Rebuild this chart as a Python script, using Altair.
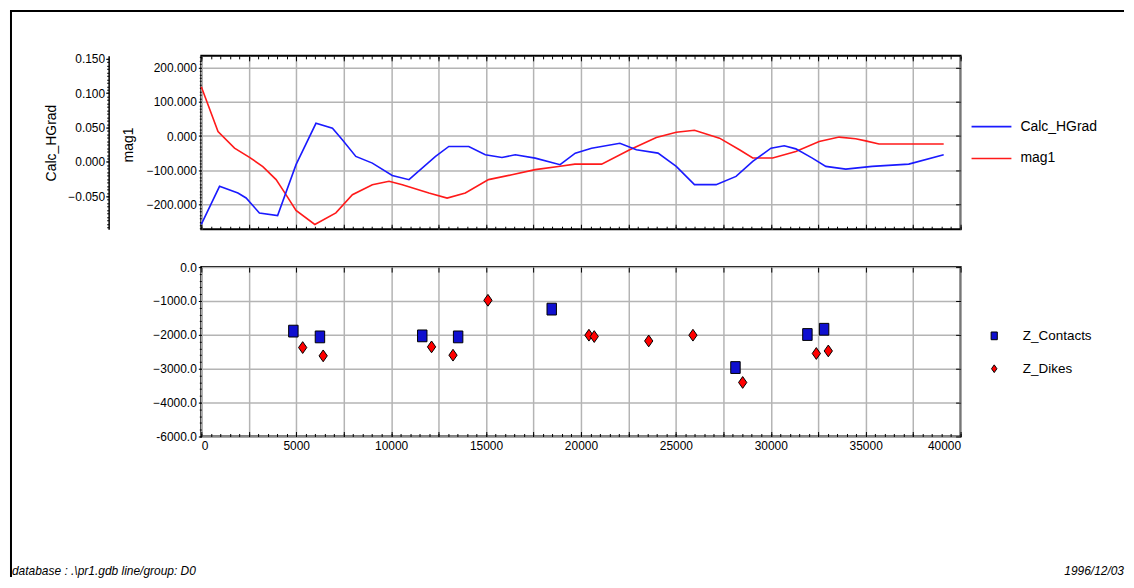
import altair as alt
import pandas as pd

# ---------------- data ----------------
dist_calc = [0, 960, 1930, 2360, 3060, 4020, 4990, 6040, 6910, 7440, 8140, 9010,
             10060, 10940, 12340, 13040, 14090, 14960, 15840, 16540, 17590, 18900,
             19700, 20560, 22050, 22920, 24060, 25020, 25980, 27120, 28170, 29050,
             30010, 30710, 31320, 32190, 32900, 33950, 35340, 37270, 39110]
calc_hgrad = [-0.0908, -0.0355, -0.0452, -0.0524, -0.0742, -0.078, -0.004, 0.0562,
              0.049, 0.032, 0.008, -0.0017, -0.0196, -0.0258, 0.008, 0.0225, 0.0225,
              0.0104, 0.0065, 0.0104, 0.0055, -0.004, 0.0128, 0.02, 0.0272, 0.0177,
              0.0128, -0.0065, -0.033, -0.033, -0.021, 0.0007, 0.02, 0.0235, 0.019,
              0.0055, -0.0065, -0.0104, -0.0065, -0.0032, 0.0104]

dist_mag = [0, 880, 1750, 2540, 3240, 3940, 4460, 4990, 5980, 7090, 7960, 9010,
            9890, 10590, 11990, 12950, 13910, 15130, 16360, 17590, 18810, 19680,
            21090, 22570, 23970, 25020, 25980, 27300, 28350, 29050, 30100, 31320,
            32550, 33600, 34470, 35000, 35700, 39110]
mag1 = [144, 13, -35, -62, -89, -127, -171, -217, -258, -224, -171, -142, -132,
        -142, -166, -181, -166, -127, -113, -98, -89, -82, -82, -40, -4, 11, 17,
        -6, -40, -64, -64, -45, -16, -3, -8, -14, -23, -23]

contacts_dist = [4850, 6250, 11640, 13530, 18460, 28140, 31930, 32810]
contacts_z = [-1890, -2060, -2030, -2060, -1240, -2965, -1990, -1835]
dikes_dist = [5340, 6420, 12130, 13260, 15100, 20420, 20700, 23570, 25900, 28520, 32400, 33030]
dikes_z = [-2375, -2620, -2355, -2600, -980, -2010, -2050, -2180, -2010, -3405, -2550, -2475]

line_series = ["Calc_HGrad", "mag1"]
point_series = ["Z_Contacts", "Z_Dikes"]
footer_left = "database : .\\pr1.gdb  line/group: D0"
footer_right = "1996/12/03"

# ---------------- styling ----------------
FONT = "Liberation Sans"
W, H1, H2, GAP = 762, 174, 170, 38
X_DOM = [0, 40000]
MAG_DOM = [-271.8, 234]
CALC_DOM = [-0.0979, 0.1543]
Z_DOM = [-5000, 0]

x_major = list(range(0, 40001, 2500))
x_minor = list(range(0, 40001, 500))
mag_major = [-200, -100, 0, 100, 200]
mag_minor = list(range(-270, 231, 10))
calc_major = [-0.05, 0.0, 0.05, 0.1, 0.15]
calc_minor = [round(-0.095 + 0.005 * i, 3) for i in range(50)]
z_major = [0, -1000, -2000, -3000, -4000, -5000]
z_minor = list(range(-5000, 1, 200))

red_df = pd.DataFrame({"dist": dist_mag, "value": mag1, "series": "mag1"})
blue_df = pd.DataFrame({"dist": dist_calc, "value": calc_hgrad, "series": "Calc_HGrad"})
pts_df = pd.DataFrame({
    "dist": contacts_dist + dikes_dist,
    "z": contacts_z + dikes_z,
    "series": [point_series[0]] * len(contacts_dist) + [point_series[1]] * len(dikes_dist),
})
one = pd.DataFrame({"k": [0]})


def xq(axis):
    return alt.X("dist:Q", scale=alt.Scale(domain=X_DOM, nice=False, zero=False),
                 axis=axis, title=None)


def yq(field, dom, axis):
    return alt.Y(f"{field}:Q", scale=alt.Scale(domain=dom, nice=False, zero=False),
                 axis=axis, title=None)


def tick_axis(orient, values, size, inward=True, offset=None):
    kw = dict(orient=orient, values=values, grid=False, labels=False, domain=False,
              ticks=True, tickSize=size, tickColor="black", tickWidth=1, title=None)
    if inward:
        kw["offset"] = -size
    elif offset is not None:
        kw["offset"] = offset
    return alt.Axis(**kw)


line_legend = alt.Legend(orient="none", legendX=772, legendY=63, title=None,
                         symbolType="stroke", symbolSize=1600, symbolStrokeWidth=1.6,
                         labelFont=FONT, labelFontSize=14, labelColor="black",
                         labelOffset=8, clipHeight=16, rowPadding=16, padding=0)
line_color = alt.Color("series:N",
                       scale=alt.Scale(domain=line_series, range=["#1a1aff", "#ff1a1a"]),
                       legend=line_legend)

# ---------------- top panel ----------------
red = alt.Chart(red_df).mark_line(strokeWidth=1.6).encode(
    x=xq(alt.Axis(values=x_major, grid=True, labels=False, ticks=False, domain=False, title=None)),
    y=alt.Y("value:Q", scale=alt.Scale(domain=MAG_DOM, nice=False, zero=False),
            title="mag1",
            axis=alt.Axis(orient="left", values=mag_major, format=".3f", grid=True,
                          tickSize=3, labelPadding=2, domain=False,
                          titleX=-73, titleY=89, titleAngle=-90, titleAlign="center",
                          titleBaseline="middle")),
    color=line_color,
)
blue = alt.Chart(blue_df).mark_line(strokeWidth=1.6).encode(
    x=xq(tick_axis("bottom", x_major, 5)),
    y=alt.Y("value:Q", scale=alt.Scale(domain=CALC_DOM, nice=False, zero=False),
            title="Calc_HGrad",
            axis=alt.Axis(orient="left", offset=93, values=calc_major, format=".3f",
                          grid=False, tickSize=3, labelPadding=1, domain=True,
                          domainWidth=1.5, domainColor="black",
                          titleX=-57, titleY=87, titleAngle=-90, titleAlign="center",
                          titleBaseline="middle")),
    color=line_color,
)
inv_a = alt.Chart(red_df).mark_line(opacity=0).encode(
    x=xq(tick_axis("top", x_major, 5)),
    y=yq("value", MAG_DOM, tick_axis("left", mag_minor, 2, inward=False)),
)
inv_b = alt.Chart(blue_df).mark_line(opacity=0).encode(
    x=xq(tick_axis("bottom", x_minor, 3)),
    y=yq("value", CALC_DOM, tick_axis("left", calc_minor, 2, inward=False, offset=93)),
)
inv_c = alt.Chart(red_df).mark_line(opacity=0).encode(
    x=xq(tick_axis("top", x_minor, 3)),
    y=yq("value", MAG_DOM, tick_axis("right", mag_major, 5)),
)
frame_left = alt.Chart(one).mark_rule(color="black", strokeWidth=2).encode(
    x=alt.value(-191), y=alt.value(-45), y2=alt.value(523))
frame_top = alt.Chart(one).mark_rule(color="black", strokeWidth=2).encode(
    x=alt.value(-192), x2=alt.value(926), y=alt.value(-45))

top = alt.layer(red, blue, inv_a, inv_b, inv_c, frame_left, frame_top).resolve_scale(
    y="independent").resolve_axis(x="independent", y="independent").properties(
    width=W, height=H1)

# ---------------- bottom panel ----------------
pt_legend = alt.Legend(orient="none", legendX=789, legendY=61, title=None,
                       symbolSize=60, labelFont=FONT, labelFontSize=13.5,
                       labelColor="black", labelOffset=22, clipHeight=16,
                       rowPadding=17, padding=0, symbolStrokeColor="black",
                       symbolStrokeWidth=1)
points = alt.Chart(pts_df).mark_point(filled=True, size=140, stroke="black",
                                      strokeWidth=1, opacity=1).encode(
    x=xq(alt.Axis(values=x_major, grid=True, ticks=False, domain=False, labelFlush=True,
                  format="d", labelPadding=4,
                  labelExpr="datum.value % 5000 == 0 ? datum.label : ''", title=None)),
    y=alt.Y("z:Q", scale=alt.Scale(domain=Z_DOM, nice=False, zero=False), title=None,
            axis=alt.Axis(orient="left", values=z_major, grid=True, tickSize=3,
                          labelPadding=2, domain=False,
                          labelExpr="datum.value == -5000 ? '-6000.0' : format(datum.value, '.1f')")),
    color=alt.Color("series:N",
                    scale=alt.Scale(domain=point_series, range=["#1010d0", "#ff0000"]),
                    legend=pt_legend),
    shape=alt.Shape("series:N",
                    scale=alt.Scale(domain=point_series,
                                    range=["M-0.8,-1H0.8V1H-0.8Z",
                                           "M0,-1L0.7,0L0,1L-0.7,0Z"]),
                    legend=pt_legend),
)
inv_d = alt.Chart(pts_df).mark_point(opacity=0).encode(
    x=xq(tick_axis("bottom", x_major, 5)),
    y=yq("z", Z_DOM, tick_axis("left", z_minor, 2, inward=False)),
)
inv_e = alt.Chart(pts_df).mark_point(opacity=0).encode(
    x=xq(tick_axis("top", x_major, 5)),
    y=yq("z", Z_DOM, tick_axis("right", z_major, 5)),
)
inv_f = alt.Chart(pts_df).mark_point(opacity=0).encode(
    x=xq(tick_axis("bottom", x_minor, 3)),
)
foot_l = alt.Chart(one).mark_text(font=FONT, fontSize=12, fontStyle="italic",
                                  align="left", baseline="alphabetic", color="black").encode(
    x=alt.value(-190), y=alt.value(309), text=alt.value(footer_left))
foot_r = alt.Chart(one).mark_text(font=FONT, fontSize=12, fontStyle="italic",
                                  align="right", baseline="alphabetic", color="black").encode(
    x=alt.value(926), y=alt.value(309), text=alt.value(footer_right))

bottom = alt.layer(points, inv_d, inv_e, inv_f, foot_l, foot_r).resolve_axis(
    x="independent", y="independent").properties(width=W, height=H2)

chart = alt.vconcat(top, bottom, spacing=GAP, bounds="flush").resolve_scale(
    color="independent", shape="independent").properties(
    padding=0, background="white"
).configure_view(stroke="black", strokeWidth=2).configure_axis(
    labelFont=FONT, titleFont=FONT, labelColor="black", titleColor="black",
    tickColor="black", domainColor="black", gridColor="#b4b4b4", gridWidth=1.5,
    labelFontSize=12, titleFontSize=14, titleFontWeight="normal")

chart.save("out.html", embed_options={"renderer": "svg", "actions": False})
